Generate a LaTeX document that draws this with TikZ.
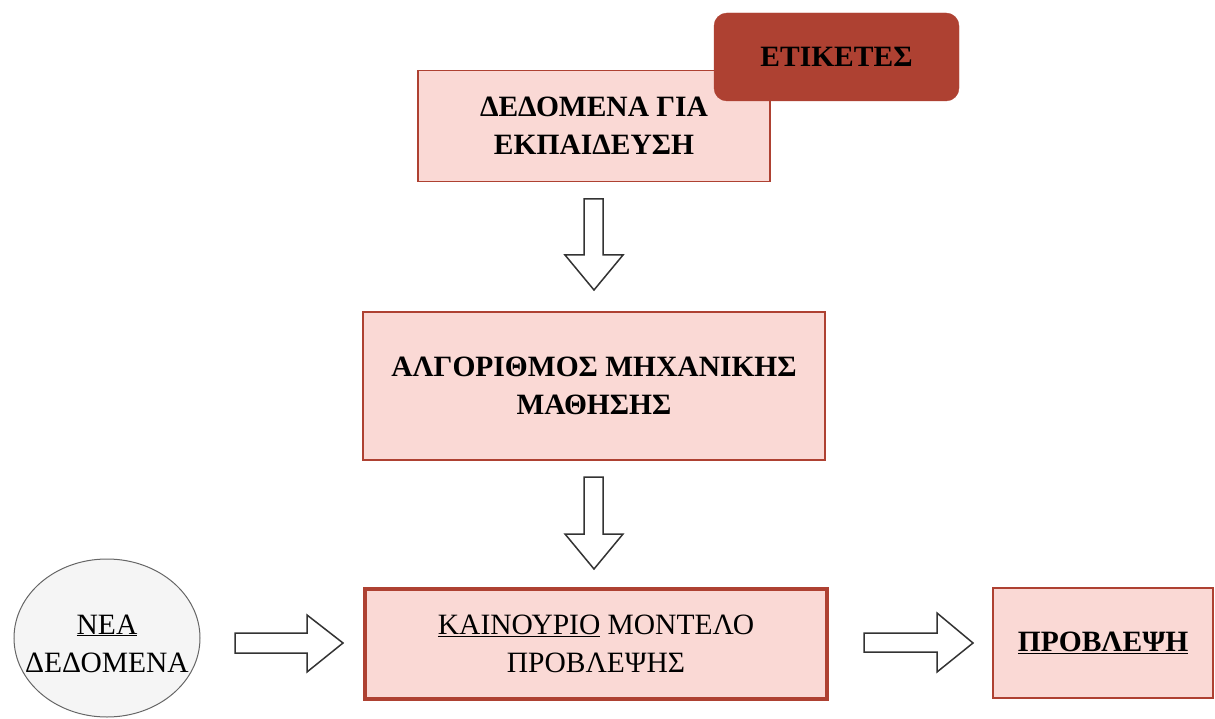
\documentclass[tikz,border=0pt]{standalone}
\usepackage{fontspec}
\setmainfont{Liberation Serif}
\usetikzlibrary{shapes.geometric}
\definecolor{boxfill}{HTML}{FAD9D5}
\definecolor{boxline}{HTML}{AE4132}
\definecolor{tagfill}{HTML}{AE4132}
\definecolor{discfill}{HTML}{F5F5F5}
\definecolor{discline}{HTML}{666666}
\tikzset{
  stagebox/.style={draw=boxline, fill=boxfill, line width=1.2pt, align=center, inner sep=0pt},
  blockarrow/.style={draw=black!80, fill=white, line width=1.5pt, line join=miter},
  lbl/.style={font=\fontsize{29.5}{38}\selectfont, align=center, inner sep=0pt}
}
\begin{document}
\begin{tikzpicture}[x=1pt, y=-1pt]
  \useasboundingbox (0,0) rectangle (1215,719);

  % training data box and label tag
  \node[stagebox, lbl, minimum width=352pt, minimum height=111pt] (train) at (594,126)
    {\bfseries ΔΕΔΟΜΕΝΑ ΓΙΑ\\\bfseries ΕΚΠΑΙΔΕΥΣΗ};
  \node[draw=tagfill, fill=tagfill, rounded corners=13pt, lbl, minimum width=245pt, minimum height=88pt] (tags) at (836.5,57)
    {\bfseries ΕΤΙΚΕΤΕΣ};

  % learning algorithm
  \node[stagebox, lbl, minimum width=462pt, minimum height=148pt] (algo) at (594,386)
    {\bfseries ΑΛΓΟΡΙΘΜΟΣ ΜΗΧΑΝΙΚΗΣ\\\bfseries ΜΑΘΗΣΗΣ};

  % resulting model
  \node[stagebox, lbl, line width=4pt, minimum width=462pt, minimum height=110pt] (model) at (596,643.5)
    {\underline{ΚΑΙΝΟΥΡΙΟ} ΜΟΝΤΕΛΟ\\ΠΡΟΒΛΕΨΗΣ};

  % new data
  \node[ellipse, draw=discline, fill=discfill, line width=1pt, minimum width=186pt, minimum height=158pt, inner sep=0pt] (newdata) at (107,638) {};
  \node[lbl] (newtext) at ([yshift=-5.5pt]newdata.center) {\underline{ΝΕΑ}\\ΔΕΔΟΜΕΝΑ};

  % prediction
  \node[stagebox, lbl, minimum width=220pt, minimum height=110pt] (pred) at (1103,643)
    {\bfseries\underline{ΠΡΟΒΛΕΨΗ}};

  % block arrows between stages
  \draw[blockarrow] (584,199) -- (603,199) -- (603,255) -- (623,255) -- (594,290)
    -- (565,255) -- (584,255) -- cycle;
  \draw[blockarrow] (584,477) -- (603,477) -- (603,534) -- (623,534) -- (594,569)
    -- (565,534) -- (584,534) -- cycle;
  \draw[blockarrow] (235,633) -- (307,633) -- (307,615) -- (343,643) -- (307,672)
    -- (307,653) -- (235,653) -- cycle;
  \draw[blockarrow] (864,633) -- (937,633) -- (937,613) -- (973,643) -- (937,672)
    -- (937,652) -- (864,652) -- cycle;
\end{tikzpicture}
\end{document}
